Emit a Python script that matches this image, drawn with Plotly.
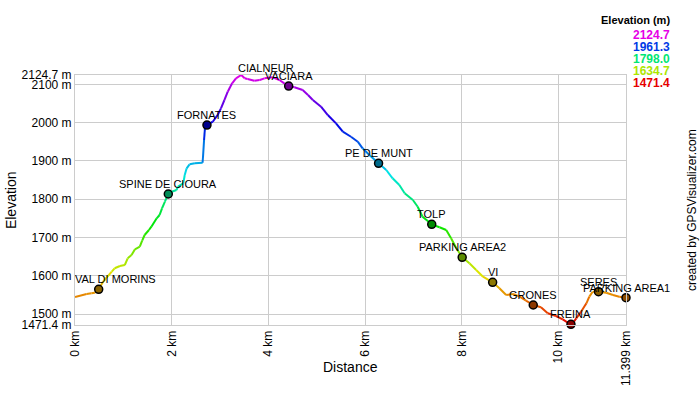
import colorsys
import plotly.graph_objects as go

# ---- data ----
dist_km = [0.00, 0.24, 0.34, 0.41, 0.49, 0.58, 0.76, 0.82, 0.93, 1.03, 1.09, 1.17, 1.24, 1.34, 1.39,
           1.44, 1.53, 1.58, 1.69, 1.75, 1.80, 1.86, 1.93, 2.00, 2.10, 2.13, 2.24, 2.27, 2.31, 2.37,
           2.48, 2.64, 2.67, 2.69, 2.73, 2.85, 2.95, 3.02, 3.09, 3.16, 3.25, 3.33, 3.44, 3.51, 3.57,
           3.71, 3.82, 3.92, 4.09, 4.23, 4.33, 4.42, 4.54, 4.71, 4.82, 4.92, 5.09, 5.23, 5.40, 5.54,
           5.71, 5.85, 5.95, 6.09, 6.28, 6.44, 6.57, 6.71, 6.82, 6.99, 7.09, 7.19, 7.38, 7.54, 7.68,
           7.78, 7.89, 8.01, 8.16, 8.30, 8.44, 8.64, 8.78, 8.92, 9.06, 9.20, 9.33, 9.48, 9.64, 9.78,
           9.95, 10.09, 10.27, 10.37, 10.47, 10.58, 10.64, 10.71, 10.83, 10.99, 11.13, 11.26, 11.399]
elev_m = [1544.6, 1552.4, 1554.2, 1555.8, 1564.7, 1584.5, 1610.7, 1619.6, 1625.6, 1628.2, 1645.7,
          1654.3, 1669.2, 1676.0, 1691.7, 1706.6, 1719.6, 1728.3, 1750.2, 1758.8, 1776.3, 1793.6,
          1813.7, 1819.7, 1824.2, 1832.8, 1841.7, 1863.4, 1880.9, 1891.3, 1894.0, 1895.5, 1954.8,
          1988.8, 1994.0, 2002.6, 2020.1, 2037.6, 2059.3, 2081.0, 2103.0, 2116.0, 2124.7, 2116.0,
          2114.2, 2109.8, 2111.6, 2116.0, 2118.6, 2111.6, 2103.0, 2095.9, 2092.5, 2085.5, 2072.4,
          2059.3, 2041.8, 2020.1, 1998.4, 1976.5, 1963.4, 1950.4, 1933.1, 1915.6, 1894.0, 1876.4,
          1854.7, 1837.2, 1815.5, 1798.0, 1780.5, 1754.4, 1734.5, 1726.7, 1719.6, 1698.0, 1671.8,
          1648.3, 1632.6, 1615.1, 1597.6, 1583.0, 1567.3, 1549.8, 1552.4, 1545.4, 1534.9, 1523.7,
          1517.7, 1502.0, 1494.9, 1486.3, 1471.4, 1488.9, 1506.2, 1528.1, 1545.4, 1558.4, 1558.4,
          1555.8, 1549.8, 1545.4, 1542.7]

wpt_names = ["VAL DI MORINS", "SPINE DE CIOURA", "FORNATES", "VACIARA", "PE DE MUNT", "TOLP",
             "PARKING AREA2", "VI", "GRONES", "FREINA", "SERES", "PARKING AREA1"]
wpt_km = [0.49, 1.93, 2.73, 4.42, 6.28, 7.38, 8.01, 8.64, 9.48, 10.26, 10.83, 11.399]
wpt_elev = [1564.7, 1813.7, 1994.0, 2095.9, 1894.0, 1734.5, 1648.3, 1583.0, 1523.7, 1473.2, 1558.4, 1542.7]

label_only_names = ["CIALNEUR"]
label_only_km = [3.96]
label_only_elev = [2116.0]

y_tickvals = [1471.4, 1500, 1600, 1700, 1800, 1900, 2000, 2100, 2124.7]
y_ticktext = ["1471.4 m", "1500 m", "1600 m", "1700 m", "1800 m", "1900 m", "2000 m", "2100 m", "2124.7 m"]
x_tickvals = [0, 2, 4, 6, 8, 10, 11.399]
x_ticktext = ["0 km", "2 km", "4 km", "6 km", "8 km", "10 km", "11.399 km"]

legend_title = "Elevation (m)"
legend_values = [2124.7, 1961.3, 1798.0, 1634.7, 1471.4]

E_MIN, E_MAX = 1471.4, 2124.7
FONT = "Liberation Sans, Arial, sans-serif"
LABEL_XSHIFT = {"VAL DI MORINS": 17}


def elev_color(e, v=0.9):
    t = max(0.0, min(1.0, (e - E_MIN) / (E_MAX - E_MIN)))
    r, g, b = colorsys.hsv_to_rgb(300.0 * t / 360.0, 1.0, v)
    return "rgb(%d,%d,%d)" % (round(r * 255), round(g * 255), round(b * 255))


fig = go.Figure()

for i in range(len(dist_km) - 1):
    fig.add_trace(go.Scatter(
        x=dist_km[i:i + 2], y=elev_m[i:i + 2], mode="lines",
        line=dict(color=elev_color((elev_m[i] + elev_m[i + 1]) / 2), width=2),
        hoverinfo="skip", showlegend=False))

fig.add_trace(go.Scatter(
    x=wpt_km, y=wpt_elev, mode="markers",
    marker=dict(size=8, color=[elev_color(e, 0.55) for e in wpt_elev],
                line=dict(color="black", width=1.5)),
    cliponaxis=False, hoverinfo="skip", showlegend=False))

# waypoint labels
for name, xk, ye in list(zip(wpt_names, wpt_km, wpt_elev)) + list(zip(label_only_names, label_only_km, label_only_elev)):
    fig.add_annotation(x=xk, y=ye, xref="x", yref="y", text=name, showarrow=False,
                       yshift=10, xshift=LABEL_XSHIFT.get(name, 0),
                       xanchor="center", yanchor="middle",
                       font=dict(family=FONT, size=11, color="black"))

grid = "#cccccc"
fig.update_xaxes(range=[0, 11.399], tickvals=x_tickvals, ticktext=x_ticktext, tickangle=-90,
                 showgrid=True, gridcolor=grid, gridwidth=1, zeroline=False,
                 showline=True, linecolor=grid, mirror=True,
                 tickfont=dict(family=FONT, size=12, color="black"))
fig.update_yaxes(range=[E_MIN, E_MAX], tickvals=y_tickvals, ticktext=y_ticktext,
                 showgrid=True, gridcolor=grid, gridwidth=1, zeroline=False,
                 showline=True, linecolor=grid, mirror=True,
                 tickfont=dict(family=FONT, size=12, color="black"))

ann = [
    dict(text="Elevation", x=-0.116, y=0.5, textangle=-90, font=dict(size=14)),
    dict(text="Distance", x=0.5, y=-0.168, font=dict(size=14)),
    dict(text="created by GPSVisualizer.com", x=1.12, y=0.46, textangle=-90, font=dict(size=12)),
    dict(text="<b>%s</b>" % legend_title, x=1.0835, y=1.22, xanchor="right", font=dict(size=11)),
]
leg_y = [1.16, 1.112, 1.064, 1.016, 0.968]
for v, yy in zip(legend_values, leg_y):
    ann.append(dict(text="<b>%.1f</b>" % v, x=1.0835, y=yy, xanchor="right",
                    font=dict(size=12, color=elev_color(v))))
for a in ann:
    a.setdefault("xanchor", "center")
    a.update(xref="paper", yref="paper", showarrow=False, yanchor="middle")
    a["font"].update(family=FONT)
    a["font"].setdefault("color", "black")
    fig.add_annotation(**a)

fig.update_layout(width=700, height=400, margin=dict(l=75, r=74, t=75, b=75),
                  plot_bgcolor="white", paper_bgcolor="white",
                  font=dict(family=FONT, color="black"), hovermode=False)

# remove the page's default 8px body margin so the 700x400 figure fills the window exactly
fig.write_html("out.html", config={"displayModeBar": False},
               post_script="document.body.style.margin='0';")
